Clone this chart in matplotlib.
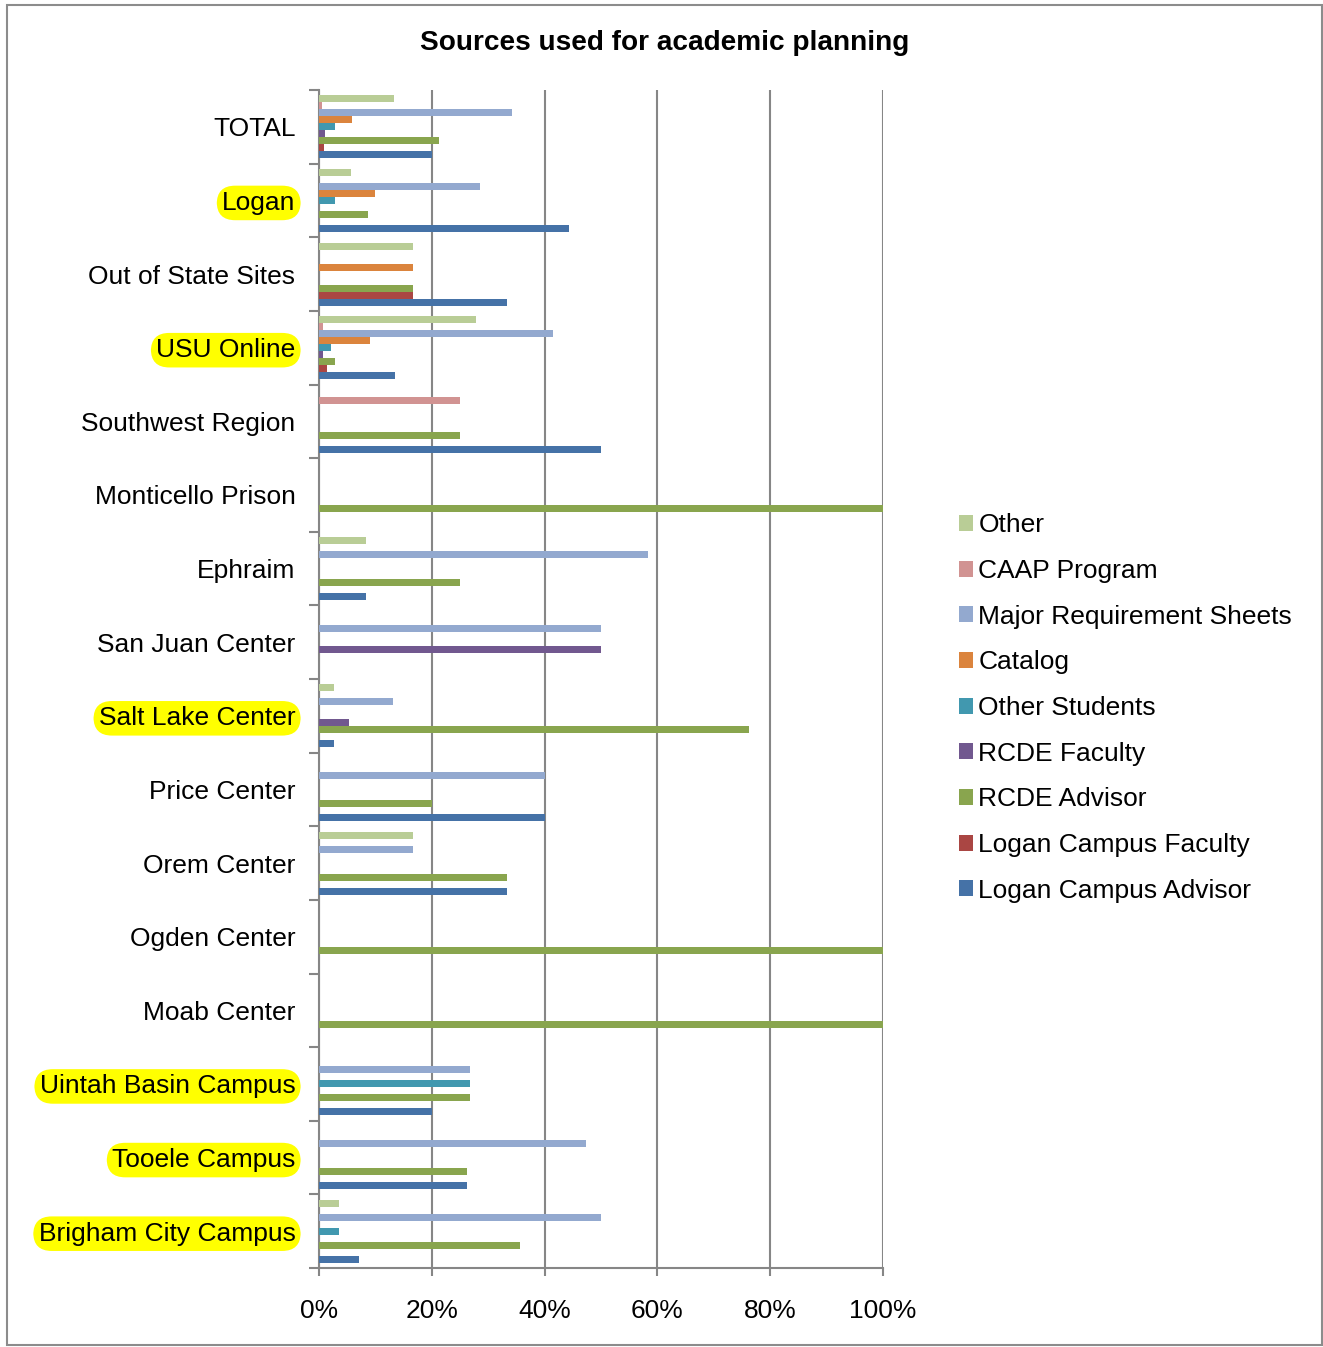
import numpy as np
import matplotlib
matplotlib.use("Agg")
import matplotlib.pyplot as plt
from matplotlib.patches import Rectangle

plt.rcParams["font.family"] = ["Liberation Sans", "DejaVu Sans"]

# categories listed top -> bottom as they appear in the chart
categories = ["TOTAL", "Logan", "Out of State Sites", "USU Online", "Southwest Region",
              "Monticello Prison", "Ephraim", "San Juan Center", "Salt Lake Center",
              "Price Center", "Orem Center", "Ogden Center", "Moab Center",
              "Uintah Basin Campus", "Tooele Campus", "Brigham City Campus"]
highlighted = ["Logan", "USU Online", "Salt Lake Center", "Uintah Basin Campus",
               "Tooele Campus", "Brigham City Campus"]

# values in percent, one list per series (same order as categories)
other = [13.3, 5.6, 16.7, 27.8, 0, 0, 8.3, 0, 2.6, 0, 16.7, 0, 0, 0, 0, 3.6]
caap = [0.5, 0, 0, 0.7, 25, 0, 0, 0, 0, 0, 0, 0, 0, 0, 0, 0]
major_sheets = [34.2, 28.6, 0, 41.5, 0, 0, 58.3, 50, 13.2, 40, 16.7, 0, 0, 26.7, 47.4, 50]
catalog = [5.8, 10.0, 16.7, 9.0, 0, 0, 0, 0, 0, 0, 0, 0, 0, 0, 0, 0]
other_students = [2.8, 2.8, 0, 2.2, 0, 0, 0, 0, 0, 0, 0, 0, 0, 26.7, 0, 3.6]
rcde_faculty = [1.1, 0, 0, 0.7, 0, 0, 0, 50, 5.3, 0, 0, 0, 0, 0, 0, 0]
rcde_advisor = [21.2, 8.6, 16.7, 2.9, 25, 100, 25, 0, 76.3, 20, 33.3, 100, 100, 26.7, 26.3, 35.7]
logan_faculty = [0.8, 0, 16.7, 1.5, 0, 0, 0, 0, 0, 0, 0, 0, 0, 0, 0, 0]
logan_advisor = [20.0, 44.4, 33.3, 13.5, 50, 0, 8.3, 0, 2.6, 40, 33.3, 0, 0, 20.0, 26.3, 7.1]

# series drawn bottom -> top inside each group
series_names = ["Logan Campus Advisor", "Logan Campus Faculty", "RCDE Advisor", "RCDE Faculty",
                "Other Students", "Catalog", "Major Requirement Sheets", "CAAP Program", "Other"]
series_values = [logan_advisor, logan_faculty, rcde_advisor, rcde_faculty,
                 other_students, catalog, major_sheets, caap, other]
colors = ["#4572A7", "#AA4643", "#89A54E", "#71588F", "#4198AF",
          "#DB843D", "#93A9CF", "#D19392", "#B9CD96"]

W, H = 1323, 1347
fig = plt.figure(figsize=(W / 100, H / 100), dpi=100)
ax = fig.add_axes([319 / W, 1 - 1268 / H, (883 - 319) / W, (1268 - 90) / H])

n = len(categories)
ypos = np.arange(n)[::-1]  # TOTAL at top
nser = len(series_names)
h = 1 / (nser + 1.5)
for i, (name, vals, c) in enumerate(zip(series_names, series_values, colors)):
    off = -nser * h / 2 + (i + 0.5) * h
    ax.barh(ypos + off, vals, height=h, color=c, label=name, zorder=3,
            edgecolor="none")

ax.set_xlim(0, 100)
ax.set_ylim(-0.5, n - 0.5)

grid_c = "#868686"
ax.set_xticks(np.arange(0, 101, 20))
ax.set_xticklabels([f"{v}%" for v in range(0, 101, 20)], fontsize=19)
ax.xaxis.grid(True, color=grid_c, linewidth=1.5, zorder=0)
ax.tick_params(axis="x", length=6, width=1.5, color=grid_c, pad=16)

ax.set_yticks(np.arange(-0.5, n, 1))
ax.set_yticklabels([])
ax.tick_params(axis="y", which="major", length=7, width=1.5, color=grid_c)
ax.set_yticks(ypos, minor=True)
ax.set_yticklabels(categories, minor=True, fontsize=19)
ax.tick_params(axis="y", which="minor", length=0, pad=17)
for lbl in ax.get_yticklabels(minor=True):
    if lbl.get_text() in highlighted:
        lbl.set_bbox(dict(boxstyle="round,pad=0.2,rounding_size=0.7",
                          facecolor="#FFFF00", edgecolor="none"))

for s in ["top", "right"]:
    ax.spines[s].set_visible(False)
for s in ["left", "bottom"]:
    ax.spines[s].set_color(grid_c)
    ax.spines[s].set_linewidth(1.5)

fig.text(665 / W, 1 - 43 / H, "Sources used for academic planning",
         ha="center", va="center", fontsize=20.2, fontweight="bold")

handles, labels = ax.get_legend_handles_labels()
fig.legend(handles[::-1], labels[::-1], loc="center left",
           bbox_to_anchor=(948 / W, 1 - 708 / H), frameon=False,
           fontsize=19, handlelength=0.55, handleheight=0.55,
           handletextpad=0.2, labelspacing=0.82, borderaxespad=0)

fig.patches.append(Rectangle((7 / W, 1 - 1345 / H), (1322 - 7) / W, (1345 - 5) / H,
                             transform=fig.transFigure, fill=False,
                             edgecolor="#8C8C8C", linewidth=1.5))

fig.savefig("out.png", dpi=100)
